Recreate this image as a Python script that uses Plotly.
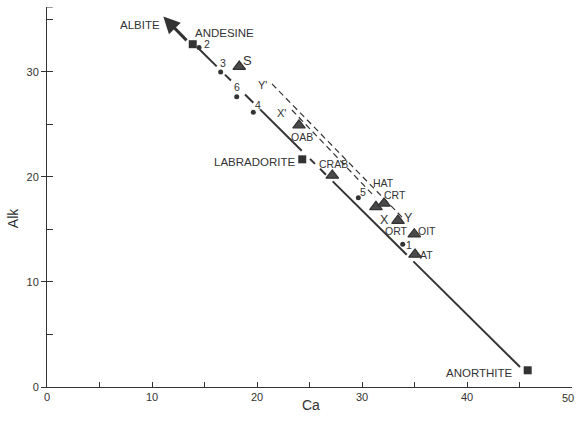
import plotly.graph_objects as go

# ---- data ----
sq_names = ["ANDESINE", "LABRADORITE", "ANORTHITE"]
sq_x = [13.88, 24.31, 45.78]
sq_y = [32.61, 21.66, 1.59]

dot_names = ["2", "3", "6", "4", "5", "1"]
dot_x = [14.48, 16.54, 18.07, 19.65, 29.65, 33.88]
dot_y = [32.29, 29.97, 27.62, 26.13, 18.00, 13.59]

tri_names = ["S", "OAB", "CRAB", "HAT", "CRT", "ORT", "OIT", "AT"]
tri_x = [18.31, 24.00, 27.17, 31.33, 32.10, 33.43, 34.98, 35.05]
tri_y = [30.48, 24.90, 20.13, 17.14, 17.47, 15.83, 14.54, 12.61]

# albite-anorthite join, drawn as broken segments
join_x = [14.41, 16.16, None, 16.95, 17.52, None, 18.86, 19.65, None,
          20.29, 24.26, None, 25.05, 25.52, None, 26.00, 26.57, None,
          27.21, 34.26, None, 34.89, 45.05]
join_y = [32.23, 30.50, None, 29.72, 29.15, None, 27.83, 27.04, None,
          26.41, 22.48, None, 21.70, 21.23, None, 20.76, 20.19, None,
          19.56, 12.58, None, 11.95, 1.90]

# dashed trends X'-X and Y'-Y
xx_x = [23.33, 31.24]
xx_y = [26.35, 18.07]
yy_x = [21.43, 33.81]
yy_y = [28.83, 16.16]

# albite arrow
arrow_tail = (13.43, 32.83)
arrow_tip = (11.08, 35.24)

x_ticks = [0, 10, 20, 30, 40, 50]
x_ticktext = ["0", "10", "20", "30", "40", ""]   # "50" placed as annotation to stay in view
y_ticks = [0, 10, 20, 30]

INK = "#333333"
FONT = "Liberation Sans, Arial, sans-serif"

fig = go.Figure()
fig.add_trace(go.Scatter(x=join_x, y=join_y, mode="lines",
                         line=dict(color=INK, width=2), hoverinfo="skip"))
fig.add_trace(go.Scatter(x=xx_x, y=xx_y, mode="lines",
                         line=dict(color=INK, width=1.2, dash="6px,4px")))
fig.add_trace(go.Scatter(x=yy_x, y=yy_y, mode="lines",
                         line=dict(color=INK, width=1.2, dash="6px,4px")))
fig.add_trace(go.Scatter(x=sq_x, y=sq_y, mode="markers", text=sq_names,
                         marker=dict(symbol="square", size=8, color=INK)))
fig.add_trace(go.Scatter(x=dot_x, y=dot_y, mode="markers", text=dot_names,
                         marker=dict(symbol="circle", size=5, color=INK)))
fig.add_trace(go.Scatter(x=tri_x, y=tri_y, mode="markers", text=tri_names,
                         marker=dict(symbol="triangle-up", size=11, color="#4a4a4a",
                                     line=dict(color=INK, width=1.2))))

# labels: (text, x, y, anchor, size)
labels = [
    ("ALBITE", 10.95, 34.45, "right", 11.5),
    ("ANDESINE", 13.90, 33.69, "left", 11.5),
    ("2", 15.24, 32.64, "center", 10.5),
    ("3", 16.73, 30.86, "center", 10.5),
    ("6", 18.12, 28.51, "center", 10.5),
    ("4", 20.10, 26.83, "center", 10.5),
    ("S", 19.14, 31.05, "center", 13),
    ("Y'", 20.57, 28.73, "center", 11),
    ("X'", 22.35, 26.07, "center", 11),
    ("LABRADORITE", 23.81, 21.43, "right", 11.5),
    ("OAB", 24.31, 23.81, "center", 10.5),
    ("CRAB", 27.27, 21.18, "center", 10.5),
    ("HAT", 32.03, 19.43, "center", 10.5),
    ("5", 30.07, 18.57, "center", 10.5),
    ("CRT", 33.14, 18.26, "center", 10.5),
    ("X", 32.10, 15.88, "center", 12.5),
    ("Y", 34.41, 16.04, "center", 12.5),
    ("ORT", 33.30, 14.86, "center", 10.5),
    ("OIT", 36.22, 14.86, "center", 10.5),
    ("1", 34.48, 13.50, "center", 10.5),
    ("AT", 36.16, 12.54, "center", 10.5),
    ("ANORTHITE", 44.57, 1.37, "right", 11.5),
]
annotations = [dict(text=t, x=x, y=y, xref="x", yref="y", xanchor=a, yanchor="middle",
                    showarrow=False, font=dict(size=s, color=INK, family=FONT))
               for t, x, y, a, s in labels]
annotations.append(dict(x=arrow_tip[0], y=arrow_tip[1], ax=arrow_tail[0], ay=arrow_tail[1],
                        xref="x", yref="y", axref="x", ayref="y", text="",
                        showarrow=True, arrowhead=2, arrowsize=1.1, arrowwidth=3,
                        arrowcolor=INK))
annotations.append(dict(text="Alk", x=-0.0642, y=0.445, xref="paper", yref="paper",
                        xanchor="center", yanchor="middle",
                        showarrow=False, textangle=-90,
                        font=dict(size=14, color=INK, family=FONT)))
annotations.append(dict(text="Ca", x=0.503, y=-0.074, xref="paper", yref="paper",
                        xanchor="center", yanchor="bottom",
                        showarrow=False, font=dict(size=14, color=INK, family=FONT)))
annotations.append(dict(text=str(x_ticks[-1]), x=x_ticks[-1], y=0, xref="x", yref="paper",
                        xanchor="right", yanchor="middle", xshift=4, yshift=-10.5,
                        showarrow=False, font=dict(size=11, color=INK, family=FONT)))

fig.update_layout(
    width=576, height=424,
    margin=dict(l=47, r=4, t=7, b=37, autoexpand=False),
    paper_bgcolor="white", plot_bgcolor="white",
    showlegend=False,
    annotations=annotations,
    font=dict(family=FONT, color=INK),
    shapes=[dict(type="line", xref="x", yref="y", x0=0, x1=0.55, y0=36.15, y1=36.15,
                 line=dict(color=INK, width=1))],
    xaxis=dict(range=[0, 50], showgrid=False, zeroline=False, showline=True,
               linecolor=INK, linewidth=1, tickvals=x_ticks,
               ticktext=x_ticktext, ticks="inside", ticklen=5,
               tickcolor=INK, tickfont=dict(size=11, color=INK),
               ticklabeloverflow="allow", automargin=False,
               minor=dict(ticks="inside", ticklen=5, dtick=5, tick0=0, tickcolor=INK)),
    yaxis=dict(range=[0, 36.15], showgrid=False, zeroline=False, showline=True,
               linecolor=INK, linewidth=1, tickvals=y_ticks,
               ticktext=[str(v) for v in y_ticks], ticks="outside", ticklen=5,
               tickcolor=INK, tickfont=dict(size=11, color=INK), automargin=False,
               minor=dict(ticks="inside", ticklen=6, dtick=5, tick0=0, tickcolor=INK)),
)

fig.write_html("out.html")
